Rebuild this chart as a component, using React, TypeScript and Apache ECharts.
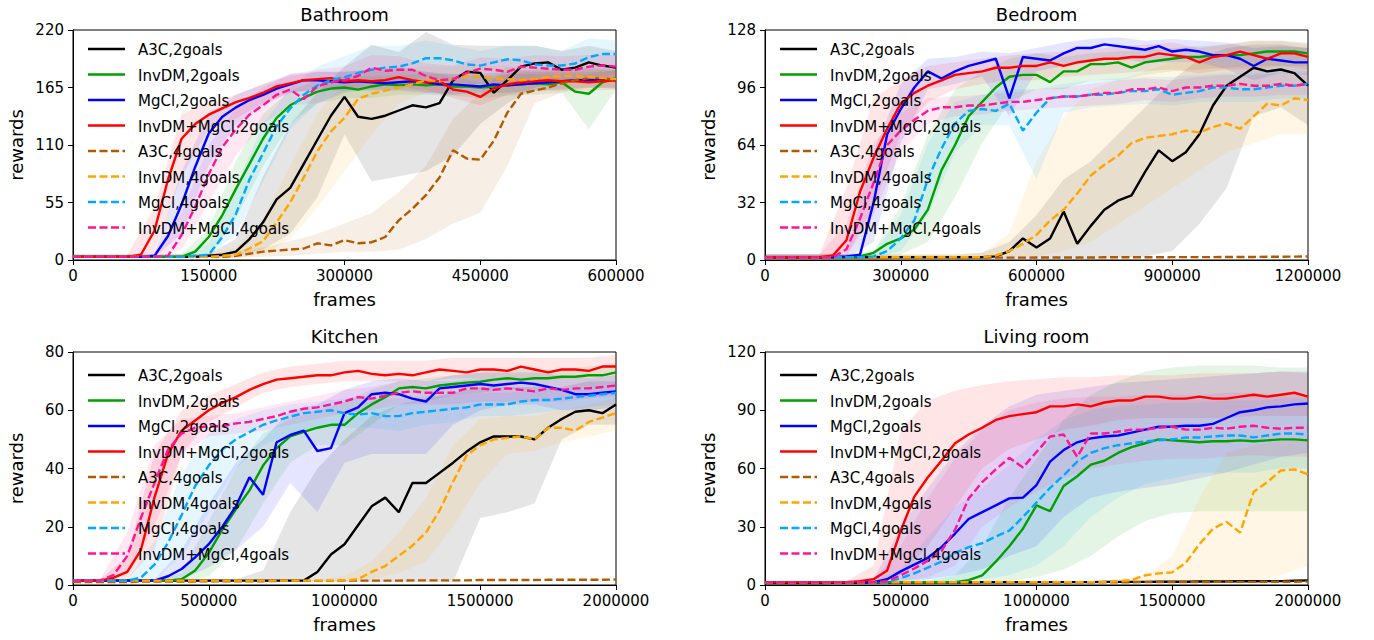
import React, { useEffect, useRef } from "react";
import * as echarts from "echarts";

const FONT = "DejaVu Sans";
const NAMES = ["A3C,2goals", "InvDM,2goals", "MgCl,2goals", "InvDM+MgCl,2goals", "A3C,4goals", "InvDM,4goals", "MgCl,4goals", "InvDM+MgCl,4goals"];
const COLORS = ["#000000", "#00a000", "#0000ff", "#ff0000", "#b35900", "#ffa500", "#00a8ff", "#ff1493"];
const DASHED = [false, false, false, false, true, true, true, true];

// ---------- Bathroom (x step 15000) ----------
const bathA3C2 = [3,3,3,3,3,3,3,3,3,3,4,5,8,20,36,58,69,92,115,138,156,137,135,138,143,148,146,150,172,180,179,160,172,185,188,189,182,184,189,186,184];
const bathInvDM2 = [3,3,3,3,3,3,3,3,3,8,22,43,68,92,116,136,148,155,161,164,165,163,166,168,167,168,167,168,166,166,165,166,167,168,169,168,170,161,159,170,174];
const bathMgCl2 = [3,3,3,3,3,3,4,23,53,89,121,137,146,153,158,164,168,172,172,171,170,171,170,169,170,171,170,168,168,167,166,168,167,168,169,170,171,172,172,173,172];
const bathInvMg2 = [3,3,3,3,3,5,28,77,116,130,139,145,151,155,160,166,169,172,173,174,171,172,171,172,175,172,170,171,163,161,156,164,168,170,171,172,171,171,170,171,172];
const bathA3C4 = [3,3,3,3,3,3,3,3,3,3,3,3,4,6,8,9,10,11,16,14,19,16,17,22,38,49,62,79,105,97,96,114,141,159,162,165,169,172,174,174,172];
const bathInvDM4 = [3,3,3,3,3,3,3,3,3,3,3,4,5,11,18,36,55,79,104,123,136,154,159,162,165,168,172,171,173,176,175,174,173,172,173,175,176,176,175,174,173];
const bathMgCl4 = [3,3,3,3,3,3,3,3,3,4,5,22,44,77,102,128,145,158,167,172,175,179,182,184,185,188,193,193,191,187,186,189,192,191,187,186,186,188,194,197,197];
const bathInvMg4 = [3,3,3,3,3,3,3,4,24,51,82,108,125,139,148,158,163,154,166,170,172,176,184,181,182,182,176,172,173,179,183,182,180,185,184,183,182,182,185,186,185];

const bathLoA3C2 = [2,2,2,2,2,2,3,10,25,60,120,75,80,85,100,130,150,165,170,172,170];
const bathHiA3C2 = [5,5,5,5,5,6,20,80,130,160,185,206,199,218,206,205,205,205,200,205,200];
const bathLoInvDM2 = [2,2,2,2,2,3,40,90,130,150,155,155,158,158,157,155,157,158,160,125,163];
const bathHiInvDM2 = [5,5,5,5,6,30,95,140,162,172,175,176,177,178,178,176,178,178,178,178,182];
const bathLoMgCl2 = [2,2,2,2,25,90,130,148,160,163,162,162,162,160,158,160,160,162,163,165,164];
const bathHiMgCl2 = [5,5,5,6,85,140,158,168,178,180,180,182,182,180,178,178,180,182,182,183,182];
const bathLoInvMg2 = [2,2,2,8,80,125,135,150,160,163,163,163,163,163,155,148,158,162,162,162,163];
const bathHiInvMg2 = [5,5,5,50,140,150,158,168,176,180,180,182,185,180,175,170,178,180,180,180,181];
const bathLoA3C4 = [2,2,2,2,2,2,2,3,4,6,8,8,10,20,35,45,90,150,160,165,165];
const bathHiA3C4 = [5,5,5,5,5,6,8,12,18,25,35,45,65,90,135,160,185,180,182,185,182];
const bathLoInvDM4 = [2,2,2,2,2,2,2,5,20,50,85,120,150,160,165,165,165,165,165,165,165];
const bathHiInvDM4 = [5,5,5,5,5,6,12,40,90,140,170,180,183,185,185,186,185,185,185,186,185];
const bathLoMgCl4 = [2,2,2,2,2,3,25,75,125,150,160,165,170,175,170,168,172,170,170,175,178];
const bathHiMgCl4 = [5,5,5,5,6,15,70,130,165,185,195,205,205,210,205,200,205,205,200,212,210];
const bathLoInvMg4 = [2,2,2,2,10,55,100,130,148,150,160,170,168,160,160,170,168,172,172,172,172];
const bathHiInvMg4 = [5,5,5,8,45,110,145,165,178,182,185,196,195,188,186,194,192,196,195,196,196];

// ---------- Bedroom (x step 30000) ----------
const bedA3C2 = [1.5,1.5,1.5,1.5,1.5, 1.5,1.5,1.5,1.5,1.5, 1.5,1.5,1.5,1.5,1.5, 1.5,1.5,2,5,12,7,12,27,9,19,28,33,36,49,61,55,60,70,86,97,102,107,105,106,104,97];
const bedInvDM2 = [1.5,1.5,1.5,1.5,1.5,1.5,1.5,2,4,9,12,17,28,50,64,80,88,96,102,103,103,99,105,105,109,109,110,107,110,111,112,113,113,114,114,114,115,116,116,116,115];
const bedMgCl2 = [1.5,1.5,1.5,1.5,1.5,1.5,2,3,32,70,84,96,105,101,105,108,110,112,90,113,112,111,115,118,118,120,119,118,117,119,116,117,116,114,114,112,108,112,111,110,110];
const bedInvMg2 = [1.5,1.5,1.5,1.5,1.5,2.5,11,38,57,73,87,93,97,100,103,104,105,107,107,108,108,110,108,110,111,112,112,113,113,115,114,113,110,113,114,116,114,112,115,115,113];
const bedA3C4 = [1,1,1,1,1,1,1,1,1,1,1.2,1.2,1.2,1.2,1.2,1.3,1.3,1.3,1.3,1.3,1.4,1.4,1.4,1.4,1.4,1.5,1.5,1.5,1.5,1.5,1.6,1.6,1.6,1.6,1.7,1.7,1.7,1.8,1.8,1.9,2];
const bedInvDM4 = [1.5,1.5,1.5,1.5,1.5, 1.5,1.5,1.5,1.5,1.5, 1.5,1.5,1.5,1.5,1.5, 1.5,1.5,2.5,5,9,14,22,28,37,47,53,58,65,68,69,70,72,71,74,76,73,80,87,86,90,89];
const bedMgCl4 = [1.5,1.5,1.5,1.5,1.5,1.5,1.5,1.5,2,5,12,22,45,62,76,83,84,83,87,72,82,90,91,91,92,92,93,94,94,95,92,93,94,96,96,95,95,96,97,97,98];
const bedInvMg4 = [1.5,1.5,1.5,1.5,1.5,1.5,6,23,43,64,72,78,83,85,85,86,86,87,88,88,89,90,91,91,92,93,93,95,95,96,94,96,96,97,97,98,97,97,98,97,98];

const bedLoA3C2 = [0.5,0.5,0.5,0.5,0.5,0.5,0.5,0.5,0.5,0.5,0.5,0.5,0.5,1,2,5,20,40,80,85,75];
const bedHiA3C2 = [3,3,3,3,3,3,3,3,4,10,25,45,55,70,85,100,112,118,120,120,118];
const bedLoInvDM2 = [0.5,0.5,0.5,0.5,1,3,10,35,65,88,95,95,100,100,103,105,106,107,108,108,108];
const bedHiInvDM2 = [3,3,3,3,5,30,70,95,105,112,115,113,115,116,117,118,119,120,122,122,121];
const bedLoMgCl2 = [0.5,0.5,0.5,1,10,65,95,98,102,80,105,108,110,112,110,110,110,106,100,104,103];
const bedHiMgCl2 = [3,3,3,3,60,98,112,113,116,115,118,121,123,124,122,123,122,121,118,119,118];
const bedLoInvMg2 = [0.5,0.5,0.5,2,30,70,88,95,98,100,100,102,103,104,105,106,104,106,106,108,106];
const bedHiInvMg2 = [3,3,3,40,90,100,108,110,112,114,115,116,117,119,120,121,118,120,122,122,120];
const bedLoInvDM4 = [0.5,0.5,0.5,0.5,0.5,0.5,0.5,0.5,0.5,1,2,5,10,20,30,40,50,60,65,70,70];
const bedHiInvDM4 = [3,3,3,3,3,3,3,3,4,15,55,80,95,100,105,110,110,108,110,110,110];
const bedLoMgCl4 = [0.5,0.5,0.5,0.5,1,5,25,60,75,75,45,82,85,86,87,86,88,88,88,90,90];
const bedHiMgCl4 = [3,3,3,3,4,25,65,88,92,95,95,98,100,101,102,102,103,104,104,105,105];
const bedLoInvMg4 = [0.5,0.5,0.5,2,25,60,76,80,81,83,84,85,86,87,89,88,90,91,91,92,92];
const bedHiInvMg4 = [3,3,3,20,65,82,90,91,92,93,95,96,98,100,101,100,102,103,103,104,104];

// ---------- Kitchen (x step 50000) ----------
const kitA3C2 = [1.5,1.5,1.5,1.5,1.5, 1.5,1.5,1.5,1.5,1.5, 1.5,1.5,1.5,1.5,1.5, 1.5,1.5,1.5,4.5,10.5,14,20.5,27,30,25,35,35,38.5,42,45.8,49,51,51,51,50,54,57,59.5,60,59,62];
const kitInvDM2 = [1.5,1.5,1.5,1.5,1.5,1.5,1.5,1.5,2,5,11,19,26,32.5,41,47,51,52.6,54,55,55,59,62,64.5,67.5,68,67.5,68.5,69,69.5,69.8,70.5,71,70.5,71,71,71.5,71.5,72,72,73];
const kitMgCl2 = [1.5,1.5,1.5,1.5,1.5,1.5,1.5,3,5.5,9.5,14,20,27,37,31,49,51.5,53,46,47,59,61,65.5,66,65.5,64,63,67.5,68,68.5,69,68.5,69,69.5,69,68,67,65.5,65.5,66,66.5];
const kitInvMg2 = [1.5,1.5,1.5,2.5,4.5,12,30,45,53,56.5,60,62.5,64.5,67,69,70.5,71,71.5,72,72,73,73.5,72.5,72,72.5,72,73,74,73.5,73,74,74,73.5,75,74,73,74,74,73.5,75,75];
const kitA3C4 = [1,1,1,1,1,1.2,1.2,1.2,1.2,1.2,1.3,1.3,1.3,1.3,1.3,1.4,1.4,1.4,1.4,1.4,1.5,1.5,1.5,1.5,1.5,1.6,1.6,1.6,1.6,1.6,1.7,1.7,1.7,1.7,1.7,1.8,1.8,1.8,1.8,1.8,1.9];
const kitInvDM4 = [1.5,1.5,1.5,1.5,1.5, 1.5,1.5,1.5,1.5,1.5, 1.5,1.5,1.5,1.5,1.5, 1.5,1.5,1.5,1.5,1.5, 1.5,2,4.5,6.5,10,13.5,18,25.5,35.5,44.5,48,50,50.5,51,50,54,54,53,56,57.5,59];
const kitMgCl4 = [1.5,1.5,1.5,1.5,1.5,2.5,7,14.5,24,34,41,46.5,50,52.5,55,56.5,57.8,59,59.5,60,59,58.5,59,58,58,59,59.5,60,60.5,61,62,62,62,63,63.5,63.5,64,64.5,65,65.5,66];
const kitInvMg4 = [1.5,1.5,1.5,3.5,10,23,35,46.5,52,54,54.5,54.5,55.5,56,57,58,59.5,60.5,61,62,63,64.5,64,65,66,66.5,66,66,66,67.5,67.5,67,67.5,67,66.5,67.5,67,67.5,67.5,68,68.5];

const kitLoA3C2 = [1,1,1,1,1,1,1,1,1,1,1,1,1,1,1,23,25,28,50,55,55];
const kitHiA3C2 = [2,2,2,2,2,2,2,5,25,40,50,58,62,64,66,68,68,68,68,70,70];
const kitLoInvDM2 = [1,1,1,1,1,3,12,28,42,48,48,55,62,63,65,66,67,67,68,68,69];
const kitHiInvDM2 = [2,2,2,2,4,22,40,52,57,60,63,67,70,71,72,73,74,74,74,75,76];
const kitLoMgCl2 = [1,1,1,1,2,6,12,20,35,25,42,45,45,45,55,60,62,62,60,60,61];
const kitHiMgCl2 = [2,2,2,2,12,28,42,50,60,62,67,70,71,70,72,73,73,73,72,71,72];
const kitLoInvMg2 = [1,1,2,12,45,56,61,66,68,69,70,70,70,70,71,71,71,71,71,71,72];
const kitHiInvMg2 = [2,2,10,45,60,65,69,73,75,76,77,77,77,77,78,78,78,78,78,78,79];
const kitLoInvDM4 = [1,1,1,1,1,1,1,1,1,1,1,2,4,8,20,35,45,46,49,51,53];
const kitHiInvDM4 = [2,2,2,2,2,2,2,2,2,2,3,8,18,30,48,57,58,58,60,62,64];
const kitLoMgCl4 = [1,1,1,2,10,25,40,48,52,54,54,54,53,55,56,58,58,59,60,61,62];
const kitHiMgCl4 = [2,2,2,15,38,52,57,60,62,63,64,64,64,65,65,66,66,67,68,68,69];
const kitLoInvMg4 = [1,1,4,20,45,51,52,53,55,57,59,60,62,62,62,63,63,63,63,64,65];
const kitHiInvMg4 = [2,2,18,48,57,58,59,61,63,65,67,68,70,70,70,71,71,71,71,71,72];

// ---------- Living room (x step 50000) ----------
const livA3C2 = [1,1,1,1,1,1.1,1.1,1.1,1.2,1.2,1.2,1.2,1.3,1.3,1.3,1.3,1.4,1.4,1.4,1.4,1.5,1.5,1.5,1.5,1.5,1.6,1.6,1.6,1.6,1.7,1.7,1.7,1.8,1.8,1.8,1.9,1.9,2,2,2.2,2.4];
const livInvDM2 = [1.5,1.5,1.5,1.5,1.5, 1.5,1.5,1.5,1.5,1.5, 1.5,1.5,1.5,1.5,1.5, 2.5,5,12,20,29,41,38,51,56,62,64,68,71,73,75,74.5,74,73.5,74,74,74.5,74,74.5,75,75,74.5];
const livMgCl2 = [1.5,1.5,1.5,1.5,1.5,1.5,1.5,1.5,1.5,3,7,10.5,14,19.5,26.5,34,37.5,41,44.6,45,51.5,63.5,69.5,73.5,75.5,76.5,77,78.5,80,81.5,81.5,82,82,83,86,89,90,91.5,92,93,93.5];
const livInvMg2 = [1.5,1.5,1.5,1.5,1.5,1.5,1.5,2,3,7.5,28,45.5,55.5,64,73,77.5,81,85,87,88,89,92,92,93,92,94,95,95,97,97,96,96,97,96,96,97,98,97,98,99,97];
const livA3C4 = [1,1,1,1,1,1,1,1,1.1,1.1,1.1,1.1,1.1,1.2,1.2,1.2,1.2,1.2,1.3,1.3,1.3,1.3,1.3,1.4,1.4,1.4,1.4,1.4,1.5,1.5,1.5,1.5,1.5,1.6,1.6,1.6,1.6,1.7,1.7,1.7,1.8];
const livInvDM4 = [1.5,1.5,1.5,1.5,1.5, 1.5,1.5,1.5,1.5,1.5, 1.5,1.5,1.5,1.5,1.5, 1.5,1.5,1.5,1.5,1.5, 1.5,1.5,1.5,1.5,1.5, 1.5,2,2.5,5,6,6.5,11.5,21,29,32.5,27,48,53,59,59.5,57];
const livMgCl4 = [1.5,1.5,1.5,1.5,1.5,1.5,1.5,1.5,1.5,1.5,3.5,6,9,12,16.5,19.5,21.5,25,28,35,42.5,50,56.5,63.5,68,70.5,72,73,74,74.5,75,76,76,76.5,77,77,76,77,78,78,77.5];
const livInvMg4 = [1.5,1.5,1.5,1.5,1.5,1.5,1.5,1.5,1.5,2,5,8.5,12.5,17.5,28.5,44.5,53,59.5,65.5,60.5,68.5,76.5,77.5,66,78,78,79,80,80,81,81.5,80,80,81,80.5,81.5,82,81,80.5,81,81];

const livLoInvDM2 = [1,1,1,1,1,1,1,1,1,2,4,8,15,25,33,37,38,38,38,38,38];
const livHiInvDM2 = [2,2,2,2,2,2,2,5,20,45,65,85,98,105,110,112,113,113,113,112,112];
const livLoMgCl2 = [1,1,1,1,1,2,3,5,8,15,20,35,45,48,50,52,55,58,62,66,68];
const livHiMgCl2 = [2,2,2,2,3,30,50,68,82,92,98,100,102,104,105,106,107,108,109,110,110];
const livLoInvMg2 = [1,1,1,1,1,5,20,40,60,70,75,80,82,85,86,86,86,86,87,87,87];
const livHiInvMg2 = [2,2,2,2,10,80,95,100,103,105,106,107,107,108,108,108,109,109,109,110,109];
const livLoInvDM4 = [1,1,1,1,1,1,1,1,1,1,1,1,1,1,1,1,1,1,2,5,10];
const livHiInvDM4 = [2,2,2,2,2,2,2,2,2,2,2,2,2,3,5,15,45,68,72,74,75];
const livLoMgCl4 = [1,1,1,1,1,1,1,2,3,5,10,20,35,45,52,55,58,58,58,60,60];
const livHiMgCl4 = [2,2,2,2,2,8,25,40,50,62,75,85,90,92,93,94,94,95,95,96,96];
const livLoInvMg4 = [1,1,1,1,1,2,4,10,30,40,48,55,60,62,64,65,65,66,67,66,66];
const livHiInvMg4 = [2,2,2,2,2,20,45,65,80,90,94,96,97,97,98,98,98,99,99,98,98];

type Band = { s: number; lo: number[]; hi: number[] };
type Panel = {
  title: string; left: number; top: number; width: number; height: number;
  xMax: number; xInterval: number; yMax: number; yInterval: number; step: number;
  lines: number[][]; bands: Band[]; legendX: number; legendY: number;
};

const PANELS: Panel[] = [
  {
    title: "Bathroom", left: 73, top: 30, width: 543, height: 230,
    xMax: 600000, xInterval: 150000, yMax: 220, yInterval: 55, step: 15000,
    lines: [bathA3C2, bathInvDM2, bathMgCl2, bathInvMg2, bathA3C4, bathInvDM4, bathMgCl4, bathInvMg4],
    bands: [
      { s: 0, lo: bathLoA3C2, hi: bathHiA3C2 }, { s: 1, lo: bathLoInvDM2, hi: bathHiInvDM2 },
      { s: 2, lo: bathLoMgCl2, hi: bathHiMgCl2 }, { s: 3, lo: bathLoInvMg2, hi: bathHiInvMg2 },
      { s: 4, lo: bathLoA3C4, hi: bathHiA3C4 }, { s: 5, lo: bathLoInvDM4, hi: bathHiInvDM4 },
      { s: 6, lo: bathLoMgCl4, hi: bathHiMgCl4 }, { s: 7, lo: bathLoInvMg4, hi: bathHiInvMg4 },
    ],
    legendX: 88, legendY: 49,
  },
  {
    title: "Bedroom", left: 765, top: 30, width: 543, height: 230,
    xMax: 1200000, xInterval: 300000, yMax: 128, yInterval: 32, step: 30000,
    lines: [bedA3C2, bedInvDM2, bedMgCl2, bedInvMg2, bedA3C4, bedInvDM4, bedMgCl4, bedInvMg4],
    bands: [
      { s: 0, lo: bedLoA3C2, hi: bedHiA3C2 }, { s: 1, lo: bedLoInvDM2, hi: bedHiInvDM2 },
      { s: 2, lo: bedLoMgCl2, hi: bedHiMgCl2 }, { s: 3, lo: bedLoInvMg2, hi: bedHiInvMg2 },
      { s: 5, lo: bedLoInvDM4, hi: bedHiInvDM4 }, { s: 6, lo: bedLoMgCl4, hi: bedHiMgCl4 },
      { s: 7, lo: bedLoInvMg4, hi: bedHiInvMg4 },
    ],
    legendX: 780, legendY: 49,
  },
  {
    title: "Kitchen", left: 73, top: 352, width: 543, height: 233,
    xMax: 2000000, xInterval: 500000, yMax: 80, yInterval: 20, step: 50000,
    lines: [kitA3C2, kitInvDM2, kitMgCl2, kitInvMg2, kitA3C4, kitInvDM4, kitMgCl4, kitInvMg4],
    bands: [
      { s: 0, lo: kitLoA3C2, hi: kitHiA3C2 }, { s: 1, lo: kitLoInvDM2, hi: kitHiInvDM2 },
      { s: 2, lo: kitLoMgCl2, hi: kitHiMgCl2 }, { s: 3, lo: kitLoInvMg2, hi: kitHiInvMg2 },
      { s: 5, lo: kitLoInvDM4, hi: kitHiInvDM4 }, { s: 6, lo: kitLoMgCl4, hi: kitHiMgCl4 },
      { s: 7, lo: kitLoInvMg4, hi: kitHiInvMg4 },
    ],
    legendX: 88, legendY: 375,
  },
  {
    title: "Living room", left: 765, top: 352, width: 543, height: 233,
    xMax: 2000000, xInterval: 500000, yMax: 120, yInterval: 30, step: 50000,
    lines: [livA3C2, livInvDM2, livMgCl2, livInvMg2, livA3C4, livInvDM4, livMgCl4, livInvMg4],
    bands: [
      { s: 1, lo: livLoInvDM2, hi: livHiInvDM2 }, { s: 2, lo: livLoMgCl2, hi: livHiMgCl2 },
      { s: 3, lo: livLoInvMg2, hi: livHiInvMg2 }, { s: 5, lo: livLoInvDM4, hi: livHiInvDM4 },
      { s: 6, lo: livLoMgCl4, hi: livHiMgCl4 }, { s: 7, lo: livLoInvMg4, hi: livHiInvMg4 },
    ],
    legendX: 780, legendY: 375,
  },
];

const DASH = [8, 3.5];
const LW = 2.4;

function buildOption() {
  const grid: any[] = [];
  const xAxis: any[] = [];
  const yAxis: any[] = [];
  const series: any[] = [];
  const graphic: any[] = [];

  PANELS.forEach((p, pi) => {
    grid.push({
      left: p.left, top: p.top, width: p.width, height: p.height,
      show: true, borderColor: "#000", borderWidth: 1, backgroundColor: "transparent", containLabel: false,
    });
    xAxis.push({
      gridIndex: pi, type: "value", min: 0, max: p.xMax, interval: p.xInterval,
      name: "frames", nameLocation: "middle", nameGap: 30,
      nameTextStyle: { fontSize: 18, color: "#000", fontFamily: FONT },
      axisLine: { show: true, onZero: false, lineStyle: { color: "#000", width: 1 } },
      axisTick: { show: true, inside: false, length: 5, lineStyle: { color: "#000", width: 1 } },
      axisLabel: {
        fontSize: 15, color: "#000", fontFamily: FONT, margin: 8,
        showMinLabel: true, showMaxLabel: true, hideOverlap: false,
        formatter: (v: number) => String(v),
      },
      splitLine: { show: false },
    });
    yAxis.push({
      gridIndex: pi, type: "value", min: 0, max: p.yMax, interval: p.yInterval,
      name: "rewards", nameLocation: "middle", nameGap: 48,
      nameTextStyle: { fontSize: 18, color: "#000", fontFamily: FONT },
      axisLine: { show: true, onZero: false, lineStyle: { color: "#000", width: 1 } },
      axisTick: { show: true, inside: false, length: 5, lineStyle: { color: "#000", width: 1 } },
      axisLabel: {
        fontSize: 15, color: "#000", fontFamily: FONT, margin: 9,
        showMinLabel: true, showMaxLabel: true,
        formatter: (v: number) => String(v),
      },
      splitLine: { show: false },
    });

    const bandStep = p.step * 2;
    p.bands.forEach((b) => {
      const color = COLORS[b.s];
      series.push({
        type: "custom",
        name: "band-" + pi + "-" + b.s,
        xAxisIndex: pi, yAxisIndex: pi,
        silent: true, z: 1,
        data: [[0, 0]],
        renderItem: (params: any, api: any) => {
          const pts: number[][] = [];
          for (let k = 0; k < b.hi.length; k++) pts.push(api.coord([k * bandStep, b.hi[k]]));
          for (let k = b.lo.length - 1; k >= 0; k--) pts.push(api.coord([k * bandStep, b.lo[k]]));
          return {
            type: "polygon",
            shape: { points: pts },
            style: { fill: color, opacity: 0.1, stroke: "none" },
          };
        },
      });
    });

    p.lines.forEach((vals, si) => {
      series.push({
        type: "line",
        name: NAMES[si],
        xAxisIndex: pi, yAxisIndex: pi,
        data: vals.map((v, i) => [i * p.step, v]),
        showSymbol: false, symbol: "none", silent: true, z: 2,
        lineStyle: { color: COLORS[si], width: LW, type: DASHED[si] ? DASH : "solid" },
        itemStyle: { color: COLORS[si] },
      });
    });

    graphic.push({
      type: "text", z: 100,
      x: p.left + p.width / 2, y: p.top - 16,
      style: { text: p.title, fontSize: 18, fontFamily: FONT, fill: "#000", align: "center", verticalAlign: "middle" },
    });

    NAMES.forEach((nm, si) => {
      const y = p.legendY + si * 25.5;
      graphic.push({
        type: "line", z: 100,
        shape: { x1: p.legendX, y1: y, x2: p.legendX + 37, y2: y },
        style: { stroke: COLORS[si], lineWidth: LW, lineDash: DASHED[si] ? DASH : null },
      });
      graphic.push({
        type: "text", z: 100,
        x: p.legendX + 50, y: y + 1,
        style: { text: nm, fontSize: 15, fontFamily: FONT, fill: "#000", align: "left", verticalAlign: "middle" },
      });
    });
  });

  return {
    animation: false,
    backgroundColor: "#ffffff",
    textStyle: { fontFamily: FONT },
    grid, xAxis, yAxis, series, graphic,
  };
}

export default function App() {
  const ref = useRef<HTMLDivElement>(null);
  useEffect(() => {
    if (!ref.current) return;
    const chart = echarts.init(ref.current, undefined, { renderer: "svg" });
    chart.setOption(buildOption() as any);
    return () => chart.dispose();
  }, []);
  return (
    <div
      ref={ref}
      style={{ position: "absolute", left: 0, top: 0, width: 1374, height: 640, background: "#fff" }}
    />
  );
}
